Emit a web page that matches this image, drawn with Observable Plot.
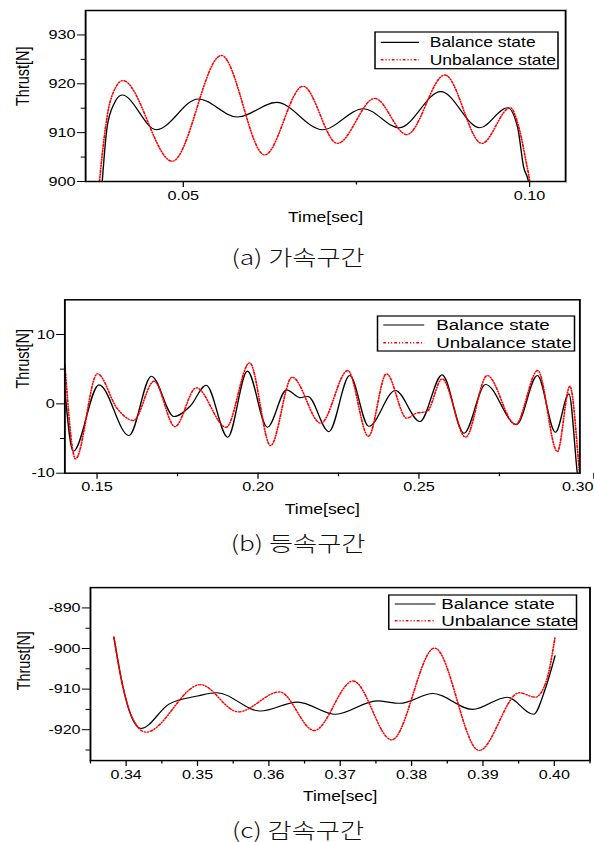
<!DOCTYPE html>
<html><head><meta charset="utf-8">
<script src="https://cdn.jsdelivr.net/npm/d3@7"></script>
<script src="https://cdn.jsdelivr.net/npm/@observablehq/plot@0.6"></script>
<style>
html,body{margin:0;padding:0;background:#fff;overflow:hidden;width:594px;height:842px;}
#page{position:relative;width:475.2px;height:842px;overflow:hidden;transform:scaleX(1.25);transform-origin:0 0;font-family:"Liberation Sans",Arial,sans-serif;background:#fff;}
.panel{position:absolute;left:0;}
.caption{position:absolute;font-family:"Noto Sans CJK KR","Noto Sans CJK SC",sans-serif;font-size:21px;font-weight:300;white-space:nowrap;transform:translateX(-50%);line-height:21px;height:21px;color:#111;}
</style></head><body><div id="page"></div>
<script>
// ---------- data ----------
const seriesNames = ["Balance state", "Unbalance state"];
const captions = ["(a) 가속구간", "(b) 등속구간", "(c) 감속구간"];
const xTitle = "Time[sec]";
const yTitle = "Thrust[N]";

// (a) acceleration section
const aBalT = [0.0383,0.0390,0.0400,0.04118,0.0461,0.05217,0.0578,0.06348,0.0701,0.0760,0.08116,0.08718,0.09282,0.09682,0.09827,0.09913,0.0999,0.1002];
const aBalV = [900,911.1,915.9,917.7,910.6,916.9,913.2,916.2,910.6,914.9,911.0,918.4,911.0,915.1,911.1,903.0,899.5,896];
const aUnbT = [0.0379,0.03853,0.03949,0.04127,0.0484,0.0555,0.06175,0.06728,0.07225,0.07765,0.08227,0.08776,0.0931,0.0972,0.0985,0.09947,0.1000,0.1003];
const aUnbV = [900,908.4,916.6,920.65,904.15,925.8,905.45,919.5,907.8,917.0,909.6,921.8,907.8,915.1,910.8,904.2,900,896];
const aXMajor = [0.05, 0.10], aXMinor = [0.075];
const aYMajor = [900, 910, 920, 930], aYMinor = [905, 915, 925];

// (b) constant-speed section
const bBalT = [0.1400,0.1426,0.1506,0.1599,0.1669,0.1739,0.1790,0.1839,0.1906,0.1967,0.2029,0.2089,0.2130,0.2155,0.2220,0.2285,0.2344,0.2427,0.2503,0.2572,0.2640,0.2707,0.2803,0.2868,0.2924,0.2966,0.2992,0.3002];
const bBalV = [2.0,-6.84,2.74,-4.57,3.98,-1.83,-0.3,2.69,-4.81,4.71,-3.37,2.02,0.9,1.05,-4.0,4.08,-3.23,1.92,-2.55,4.18,-4.24,2.78,-2.99,4.08,-4.1,1.44,-10,-14];
const bUnbT = [0.1400,0.1433,0.1501,0.1563,0.1613,0.1677,0.1742,0.1808,0.1901,0.1974,0.2039,0.2106,0.2195,0.2279,0.2343,0.2399,0.2462,0.2492,0.2525,0.2572,0.2645,0.2712,0.2800,0.2869,0.2930,0.2969,0.2999,0.3005];
const bUnbV = [5.67,-7.94,4.33,-0.7,-2.41,3.26,-3.28,2.31,-3.37,5.91,-6.02,3.84,-2.8,4.8,-4.67,4.33,-2.07,-1.35,-1.1,3.6,-4.81,4.08,-2.99,4.8,-6.88,2.54,-10,-13];
const bXMajor = [0.15, 0.20, 0.25], bXEdge = [0.30], bXMinor = [0.175, 0.225, 0.275];
const bYMajor = [-10, 0, 10], bYMinor = [-5, 5];

// (c) deceleration section
const cBalT = [0.33828,0.33953,0.3407,0.34208,0.3460,0.3500,0.3527,0.35881,0.36404,0.36935,0.37513,0.37836,0.3830,0.38854,0.3934,0.39709,0.3987,0.4001];
const cBalV = [-897.2,-909.3,-916.6,-919.7,-913.7,-911.7,-910.9,-915.4,-913.2,-916.2,-912.9,-913.5,-911.1,-915.0,-912.0,-916.2,-910.1,-901.8];
const cUnbT = [0.33828,0.33953,0.3408,0.34277,0.3504,0.35571,0.3615,0.36635,0.3718,0.37721,0.38322,0.38946,0.3951,0.39732,0.39895,0.4001];
const cUnbV = [-897.2,-909.3,-916.8,-920.6,-908.9,-915.6,-910.7,-920.2,-908.0,-922.5,-899.9,-925.1,-910.9,-912.0,-907.6,-897.2];
const cXMajor = [0.34, 0.35, 0.36, 0.37, 0.38, 0.39, 0.40];
const cXMinor = [0.335, 0.345, 0.355, 0.365, 0.375, 0.385, 0.395, 0.405];
const cYMajor = [-920, -910, -900, -890], cYMinor = [-925, -915, -905, -895];

// ---------- drawing ----------
const page = document.getElementById("page");
const RED = "#ff0000";
const DASH = "2.2,1.6,0.9,1.6,0.9,1.6";
const zip = (T, V) => T.map((t, i) => ({t, v: V[i]}));

function panel(o) {
  const marks = [
    Plot.line(zip(o.balT, o.balV), {x: "t", y: "v", stroke: "black", strokeWidth: 1.1, curve: "monotone-x", clip: true}),
    Plot.line(zip(o.unbT, o.unbV), {x: "t", y: "v", stroke: RED, strokeWidth: 1.35, strokeDasharray: DASH, curve: "monotone-x", clip: true}),
    Plot.axisX({ticks: o.xMaj, tickSize: 6, tickPadding: 3, tickFormat: d3.format(".2f"), fontSize: o.fs, label: null}),
    Plot.axisX({ticks: o.xMin, tickSize: 3.5, tickFormat: () => "", label: null}),
    Plot.axisY({ticks: o.yMaj, tickSize: 6.5, tickPadding: 1.5, tickFormat: d => String(d), fontSize: o.fs, label: null}),
    Plot.axisY({ticks: o.yMin, tickSize: 3.5, tickFormat: () => "", label: null}),
    Plot.frame({stroke: "black", strokeWidth: 1.5}),
    Plot.text([yTitle], {text: d => d, frameAnchor: "left", rotate: -90, dx: o.ytDx, dy: o.ytDy, fontSize: 14.5}),
    Plot.text([xTitle], {text: d => d, frameAnchor: "bottom", dy: o.xtDy, fontSize: 14})
  ];
  if (o.xEdge) {
    // last tick sits on the page edge: keep its label inside the page
    marks.push(Plot.axisX({ticks: o.xEdge, tickSize: 6, tickPadding: 3, tickFormat: d3.format(".2f"), fontSize: o.fs, label: null, textAnchor: "end", dx: 11}));
  }
  const svg = Plot.plot({
    width: o.width, height: o.height,
    marginTop: o.mt, marginBottom: o.mb, marginLeft: o.ml, marginRight: o.mr,
    style: {fontFamily: "'Liberation Sans', Arial, sans-serif", background: "transparent", overflow: "visible", color: "black"},
    x: {domain: o.xDomain},
    y: {domain: o.yDomain},
    marks
  });
  svg.classList.add("panel");
  svg.style.top = o.top + "px";
  page.appendChild(svg);
}

function legend(x, y, w, h, s0, s1, tx, r1, r2, fs) {
  const svg = d3.create("svg")
    .attr("width", w + 4).attr("height", h + 4)
    .style("position", "absolute").style("left", (x - 2) + "px").style("top", (y - 2) + "px");
  svg.append("rect").attr("x", 2).attr("y", 2).attr("width", w).attr("height", h)
    .attr("fill", "white").attr("stroke", "black").attr("stroke-width", 1.2);
  const rows = [r1, r2];
  const styles = [{stroke: "black", w: 1.1, dash: null}, {stroke: RED, w: 1.35, dash: DASH}];
  rows.forEach((r, i) => {
    const yy = r - y + 2;
    svg.append("line").attr("x1", s0 - x + 2).attr("x2", s1 - x + 2).attr("y1", yy).attr("y2", yy)
      .attr("stroke", styles[i].stroke).attr("stroke-width", styles[i].w).attr("stroke-dasharray", styles[i].dash);
    svg.append("text").attr("x", tx - x + 2).attr("y", yy).attr("dominant-baseline", "central")
      .attr("font-family", "'Liberation Sans', Arial, sans-serif").attr("font-size", fs).text(seriesNames[i]);
  });
  page.appendChild(svg.node());
}

function caption(text, cx, cy) {
  const d = document.createElement("div");
  d.className = "caption";
  d.textContent = text;
  d.style.left = cx + "px";
  d.style.top = (cy - 10.5) + "px";
  page.appendChild(d);
}

// (a)
panel({top: 0, width: 475, height: 235, mt: 10, mb: 54, ml: 68, mr: 23,
  xDomain: [0.0359, 0.1052], yDomain: [900, 935],
  xMaj: aXMajor, xMin: aXMinor, yMaj: aYMajor, yMin: aYMinor,
  balT: aBalT, balV: aBalV, unbT: aUnbT, unbV: aUnbV,
  ytDx: -50, ytDy: 10, xtDy: 40, fs: 13});
legend(300.2, 32.3, 146.4, 36.7, 304.8, 335.4, 344, 42.7, 60, 14);
caption(captions[0], 238.5, 256.7);

// (b)
panel({top: 280, width: 475, height: 250, mt: 19.3, mb: 57.3, ml: 51.4, mr: 11.6,
  xDomain: [0.14, 0.30], yDomain: [-10, 15],
  xMaj: bXMajor, xEdge: bXEdge, xMin: bXMinor, yMaj: bYMajor, yMin: bYMinor,
  balT: bBalT, balV: bBalV, unbT: bUnbT, unbV: bUnbV,
  ytDx: -33.4, ytDy: 2, xtDy: 40.5, fs: 13});
legend(301.8, 316, 157.6, 35, 306.4, 339.2, 348.8, 325, 342.7, 15);
caption(captions[1], 238.5, 542);

// (c)
panel({top: 570, width: 480, height: 245, mt: 17.3, mb: 53, ml: 72.6, mr: 3.7,
  xDomain: [0.335, 0.405], yDomain: [-927.6, -885],
  xMaj: cXMajor, xMin: cXMinor, yMaj: cYMajor, yMin: cYMinor,
  balT: cBalT, balV: cBalV, unbT: cUnbT, unbV: cUnbV,
  ytDx: -53.9, ytDy: 16.3, xtDy: 41, fs: 13});
legend(310.6, 595, 150.2, 34.3, 315.4, 348, 352.6, 604, 620.7, 15);
caption(captions[2], 238.5, 829);
</script></body></html>
